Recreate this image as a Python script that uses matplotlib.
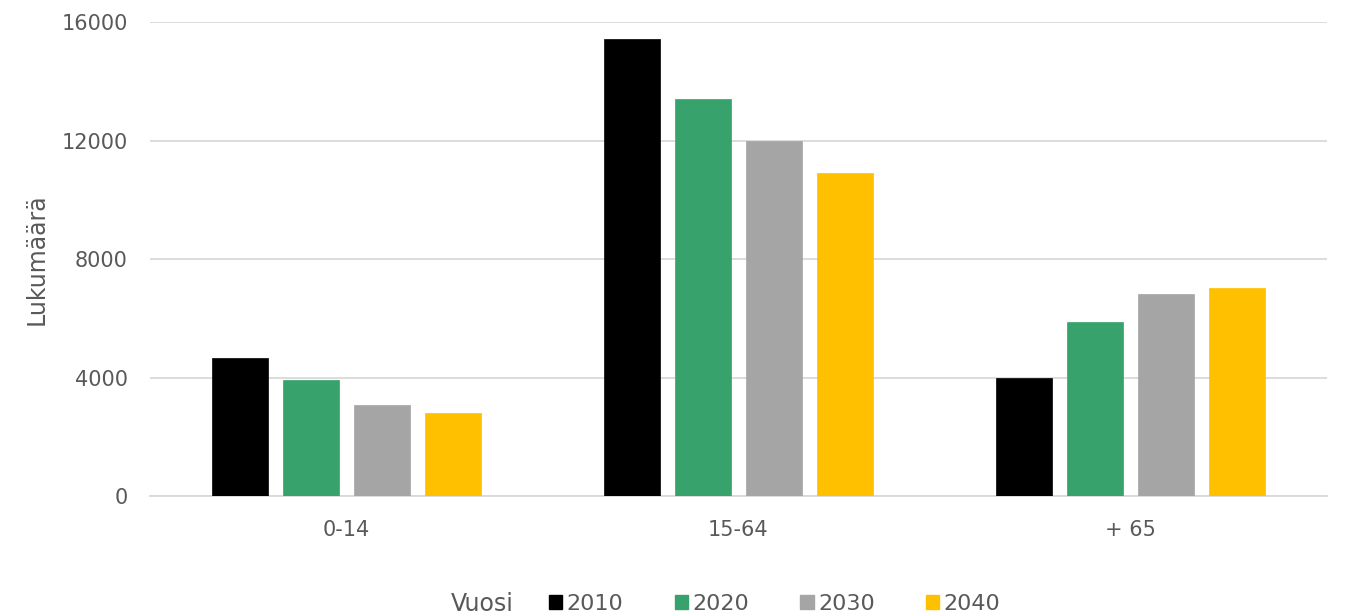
import matplotlib
matplotlib.use("Agg")
import matplotlib.pyplot as plt
import numpy as np
from matplotlib.patches import Patch

categories = ["0-14", "15-64", "+ 65"]
years = ["2010", "2020", "2030", "2040"]
v2010 = [4650, 15430, 3980]
v2020 = [3920, 13400, 5870]
v2030 = [3070, 11980, 6820]
v2040 = [2800, 10900, 7020]
yticks = [0, 4000, 8000, 12000, 16000]

series = [v2010, v2020, v2030, v2040]
colors = ["#000000", "#38A26C", "#A5A5A5", "#FFC000"]
text_color = "#595959"

plt.rcParams['font.family'] = ['DejaVu Sans']

fig = plt.figure(figsize=(13.58, 6.16), dpi=100)
ax = fig.add_axes([150/1358, 1-496/616, 1177/1358, 474/616])

x = np.arange(len(categories))
width = 0.143
step = 0.181
for i, (vals, c) in enumerate(zip(series, colors)):
    ax.bar(x + (i - 1.5) * step, vals, width=width, color=c, zorder=3,
           edgecolor=c, linewidth=0.5)

ax.set_xlim(-0.5, len(categories) - 0.5)
ax.set_ylim(0, 16000)
ax.set_yticks(yticks)
ax.set_yticklabels([str(t) for t in yticks])
ax.set_xticks(x)
ax.set_xticklabels(categories)
ax.grid(axis='y', color='#D9D9D9', linewidth=1.3, zorder=0)
for s in ['top', 'right', 'left']:
    ax.spines[s].set_visible(False)
ax.spines['bottom'].set_color('#D9D9D9')
ax.spines['bottom'].set_linewidth(1.3)
ax.tick_params(axis='y', length=0, pad=16, labelsize=15, labelcolor=text_color)
ax.tick_params(axis='x', length=0, pad=17, labelsize=15, labelcolor=text_color)
ax.set_ylabel("Lukumäärä", fontsize=17, color=text_color, labelpad=9)

fig.text(482/1358, 1-604/616, "Vuosi", fontsize=17, color=text_color,
         ha='center', va='center')
handles = [Patch(facecolor=c, edgecolor=c) for c in colors]
fig.legend(handles, years, loc='center left', bbox_to_anchor=(529/1358, 1-604/616),
           ncol=4, frameon=False, fontsize=16, labelcolor=text_color,
           handlelength=0.6, handleheight=0.6, handletextpad=0.2,
           columnspacing=2.3)

fig.savefig("out.png", dpi=100)
